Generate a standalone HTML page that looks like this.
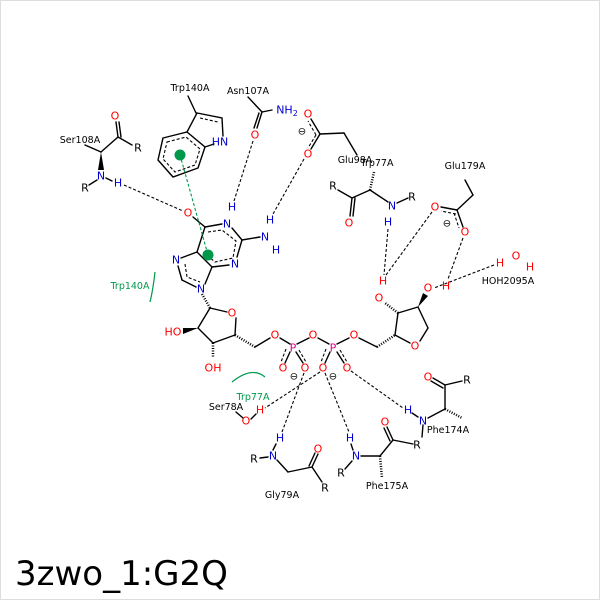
<!DOCTYPE html>
<html><head><style>body{margin:0;background:#fff}svg{display:block}</style></head><body>
<svg width="600" height="600" viewBox="0 0 600 600" xmlns="http://www.w3.org/2000/svg" font-family="DejaVu Sans, Liberation Sans, sans-serif">
<rect x="0.5" y="0.5" width="599" height="599" fill="#fff" stroke="#ddd"/>
<g stroke="#000" stroke-width="1.4" fill="none" stroke-linecap="round">
<!-- indole -->
<polygon points="163,138 187,132 205,147 198,168 173,177 158,160"/>
<polyline points="187,132 197,113 222,118 223,136"/>
<line x1="214" y1="144" x2="205" y2="147"/>
<line x1="196" y1="113" x2="188" y2="96"/>
<!-- Asn -->
<line x1="248" y1="97" x2="262" y2="112"/><line x1="262" y1="112" x2="272" y2="110"/>
<line x1="262" y1="112" x2="257" y2="128"/><line x1="259" y1="113" x2="254" y2="128"/>
<!-- Ser108 -->
<line x1="85" y1="145" x2="101" y2="152"/><line x1="101" y1="152" x2="118" y2="137"/>
<line x1="118" y1="137" x2="116" y2="122"/><line x1="121" y1="137" x2="119" y2="122"/>
<line x1="118" y1="137" x2="132" y2="145"/><line x1="97" y1="180" x2="89" y2="185"/>
<line x1="106" y1="178" x2="112" y2="181"/>
<!-- purine -->
<line x1="193" y1="217" x2="205" y2="227"/><line x1="205" y1="227" x2="222" y2="224"/>
<line x1="232" y1="228" x2="242" y2="240"/><line x1="242" y1="240" x2="260" y2="237"/>
<line x1="242" y1="240" x2="237" y2="257"/><line x1="229" y1="265" x2="212" y2="267"/>
<line x1="212" y1="267" x2="197" y2="252"/><line x1="197" y1="252" x2="205" y2="227"/>
<line x1="197" y1="252" x2="181" y2="258"/><line x1="178" y1="266" x2="182" y2="280"/>
<line x1="182" y1="280" x2="196" y2="287"/><line x1="205" y1="284" x2="212" y2="267"/>
<!-- ribose1 -->
<line x1="210" y1="308" x2="227" y2="312"/><line x1="236" y1="318" x2="235" y2="335"/>
<line x1="235" y1="335" x2="213" y2="343"/><line x1="213" y1="343" x2="198" y2="328"/>
<line x1="198" y1="328" x2="210" y2="308"/>
<line x1="255" y1="347" x2="270" y2="338"/><line x1="280" y1="338" x2="290" y2="344"/>
<line x1="297" y1="344" x2="309" y2="338"/><line x1="318" y1="338" x2="329" y2="344"/>
<line x1="337" y1="344" x2="349" y2="338"/><line x1="359" y1="338" x2="377" y2="347"/>
<line x1="290" y1="352" x2="285" y2="363"/><line x1="296" y1="352" x2="303" y2="363"/>
<line x1="330" y1="352" x2="325" y2="363"/><line x1="337" y1="352" x2="344" y2="363"/>
<!-- ribose2 -->
<line x1="395" y1="335" x2="410" y2="343"/><line x1="420" y1="341" x2="428" y2="328"/>
<line x1="428" y1="328" x2="418" y2="307"/><line x1="418" y1="307" x2="398" y2="313"/>
<line x1="398" y1="313" x2="395" y2="335"/>
<!-- Glu179 -->
<line x1="465" y1="180" x2="473" y2="195"/><line x1="473" y1="195" x2="457" y2="210"/>
<line x1="457" y1="210" x2="441" y2="207"/><line x1="457" y1="210" x2="463" y2="227"/>
<!-- Glu98 -->
<line x1="357" y1="155" x2="344" y2="133"/><line x1="344" y1="133" x2="320" y2="134"/>
<line x1="320" y1="134" x2="311" y2="119"/><line x1="320" y1="134" x2="311" y2="149"/>
<!-- Trp77 -->
<line x1="370" y1="190" x2="352" y2="198"/><line x1="352" y1="198" x2="338" y2="190"/>
<line x1="352" y1="198" x2="350" y2="216"/><line x1="355" y1="198" x2="353" y2="216"/>
<line x1="370" y1="190" x2="388" y2="202"/><line x1="397" y1="203" x2="408" y2="198"/>
<!-- Ser78 -->
<line x1="236" y1="412" x2="243" y2="418"/><line x1="251" y1="419" x2="256" y2="414"/>
<!-- Gly79 -->
<line x1="260" y1="458" x2="268" y2="457"/><line x1="277" y1="460" x2="288" y2="472"/>
<line x1="288" y1="472" x2="312" y2="467"/><line x1="312" y1="467" x2="318" y2="454"/>
<line x1="309" y1="466" x2="315" y2="453"/>
<line x1="312" y1="467" x2="322" y2="482"/><line x1="273" y1="450" x2="276" y2="444"/>
<!-- Phe175 -->
<line x1="345" y1="469" x2="352" y2="461"/><line x1="361" y1="456" x2="380" y2="456"/>
<line x1="380" y1="456" x2="393" y2="440"/><line x1="393" y1="440" x2="387" y2="427"/>
<line x1="390" y1="441" x2="384" y2="428"/>
<line x1="393" y1="440" x2="413" y2="444"/><line x1="353" y1="450" x2="351" y2="444"/>
<!-- Phe174 -->
<line x1="423" y1="425" x2="422" y2="437"/><line x1="428" y1="418" x2="445" y2="409"/>
<line x1="445" y1="409" x2="445" y2="385"/><line x1="445" y1="385" x2="433" y2="378"/>
<line x1="443" y1="388" x2="431" y2="381"/>
<line x1="445" y1="385" x2="462" y2="381"/><line x1="418" y1="417" x2="412" y2="413"/>
</g>
<!-- aromatic dashed inner -->
<g stroke="#000" stroke-width="1.1" stroke-dasharray="3,2" fill="none">
<polygon points="167,142 186,137 200,149 195,165 175,172 163,159"/>
<line x1="200" y1="118" x2="218" y2="122"/>
<polyline points="208,232 222,230 236,241 233,258 215,262 202,251"/>
<polyline points="185,264 187,277 200,282"/>
<line x1="316" y1="135" x2="308" y2="121"/><line x1="316" y1="135" x2="308" y2="148"/>
<line x1="456" y1="214" x2="441" y2="211"/><line x1="454" y1="213" x2="459" y2="228"/>
<line x1="286" y1="349" x2="281" y2="362"/><line x1="299" y1="350" x2="306" y2="362"/>
<line x1="326" y1="349" x2="321" y2="362"/><line x1="340" y1="350" x2="347" y2="362"/>
</g>
<!-- hashed wedges -->
<g stroke="#000" stroke-width="2.5" stroke-dasharray="1,1.5">
<line x1="202" y1="294" x2="210" y2="308"/><line x1="235" y1="335" x2="255" y2="347"/>
<line x1="377" y1="347" x2="395" y2="335"/><line x1="398" y1="313" x2="385" y2="303" />
<line x1="370" y1="190" x2="374" y2="172"/><line x1="380" y1="456" x2="382" y2="478"/>
<line x1="445" y1="409" x2="462" y2="418"/><line x1="213" y1="343" x2="213" y2="358"/>
</g>
<polygon points="101,152 98,170 104,170" fill="#000"/>
<polygon points="198,328 183,328 183,334" fill="#000"/>
<polygon points="418,307 423,293 428,296" fill="#000"/>
<!-- H-bonds -->
<g stroke="#000" stroke-width="1.1" stroke-dasharray="3,2" fill="none">
<line x1="124" y1="185" x2="183" y2="211"/><line x1="253" y1="141" x2="234" y2="201"/>
<line x1="304" y1="159" x2="273" y2="214"/><line x1="388" y1="229" x2="384" y2="275"/>
<line x1="432" y1="212" x2="386" y2="275"/><line x1="463" y1="238" x2="448" y2="279"/>
<line x1="494" y1="265" x2="434" y2="288"/><line x1="304" y1="373" x2="282" y2="432"/>
<line x1="320" y1="372" x2="265" y2="408"/><line x1="325" y1="373" x2="349" y2="432"/>
<line x1="351" y1="371" x2="403" y2="408"/>
</g>
<line x1="180" y1="155" x2="208" y2="255" stroke="#00994c" stroke-width="1.1" stroke-dasharray="3,2"/>
<circle cx="180" cy="155" r="5.5" fill="#00994c"/><circle cx="208" cy="255" r="5.5" fill="#00994c"/>
<path d="M155 272 Q153 290 150 302" stroke="#00994c" stroke-width="1.2" fill="none"/>
<path d="M232 382 Q252 366 265 377" stroke="#00994c" stroke-width="1.2" fill="none"/>
<!-- text -->
<g font-size="9.5" fill="#000" text-anchor="middle">
<text x="190" y="91">Trp140A</text><text x="248" y="94">Asn107A</text><text x="80" y="143">Ser108A</text>
<text x="355" y="163">Glu98A</text><text x="377" y="166">Trp77A</text><text x="465" y="169">Glu179A</text>
<text x="508" y="284">HOH2095A</text><text x="226" y="410">Ser78A</text><text x="448" y="433">Phe174A</text>
<text x="282" y="498">Gly79A</text><text x="387" y="489">Phe175A</text>
</g>
<g font-size="9.5" fill="#00994c" text-anchor="middle"><text x="130" y="289">Trp140A</text><text x="253" y="400">Trp77A</text></g>
<g font-size="11" text-anchor="middle" dominant-baseline="central">
<g fill="#000"><text x="138" y="148">R</text><text x="85" y="188">R</text><text x="333" y="186">R</text><text x="412" y="197">R</text>
<text x="254" y="459">R</text><text x="325" y="488">R</text><text x="341" y="473">R</text><text x="417" y="445">R</text><text x="467" y="380">R</text>
<text x="294" y="377" font-size="10">⊖</text><text x="333" y="377" font-size="10">⊖</text><text x="302" y="132" font-size="10">⊖</text><text x="447" y="224" font-size="10">⊖</text></g>
<g fill="#f00"><text x="115" y="116">O</text><text x="188" y="213">O</text><text x="255" y="135">O</text><text x="308" y="114">O</text><text x="308" y="154">O</text>
<text x="349" y="223">O</text><text x="435" y="207">O</text><text x="465" y="232">O</text><text x="500" y="263">H</text><text x="516" y="256">O</text><text x="530" y="267">H</text>
<text x="232" y="313">O</text><text x="173" y="332">HO</text><text x="213" y="368">OH</text><text x="275" y="335">O</text><text x="313" y="335">O</text><text x="354" y="335">O</text>
<text x="283" y="368">O</text><text x="305" y="368">O</text><text x="323" y="368">O</text><text x="347" y="368">O</text><text x="415" y="346">O</text>
<text x="379" y="298">O</text><text x="383" y="281">H</text><text x="428" y="288">O</text><text x="446" y="286">H</text>
<text x="246" y="421">O</text><text x="260" y="410">H</text><text x="318" y="449">O</text><text x="385" y="422">O</text><text x="428" y="377">O</text></g>
<g fill="#00c">
<text x="220" y="142">HN</text><text x="287" y="110">NH<tspan font-size="8" dy="3">2</tspan></text>
<text x="101" y="176">N</text><text x="118" y="183">H</text><text x="227" y="224">N</text><text x="232" y="207">H</text>
<text x="265" y="237">N</text><text x="270" y="220">H</text><text x="276" y="250">H</text><text x="235" y="264">N</text><text x="176" y="260">N</text><text x="201" y="289">N</text>
<text x="392" y="206">N</text><text x="388" y="222">H</text><text x="280" y="438">H</text><text x="273" y="456">N</text>
<text x="350" y="438">H</text><text x="356" y="456">N</text><text x="408" y="410">H</text><text x="423" y="421">N</text></g>
<g fill="#e0008a"><text x="293" y="348">P</text><text x="333" y="348">P</text></g>
</g>
<text x="15" y="585" font-size="34" font-family="DejaVu Sans, sans-serif" fill="#000">3zwo_1:G2Q</text>
</svg>
</body></html>
